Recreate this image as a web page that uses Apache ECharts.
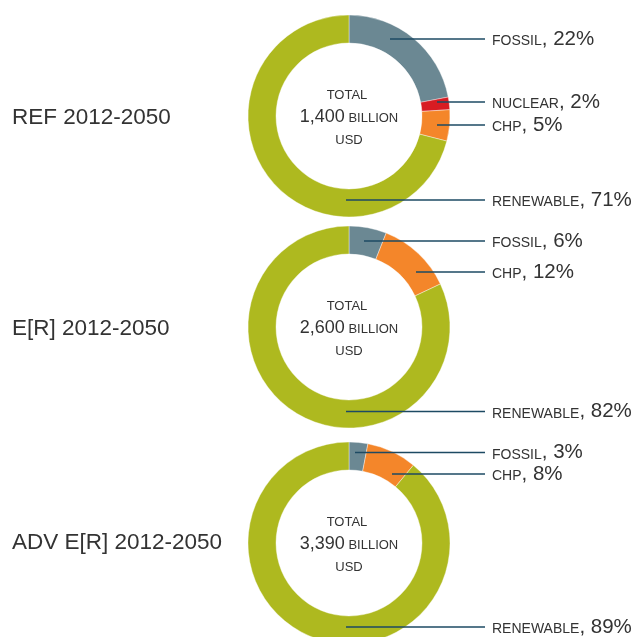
<!DOCTYPE html>
<html>
<head>
<meta charset="utf-8">
<script src="https://cdn.jsdelivr.net/npm/echarts@6/dist/echarts.min.js"></script>
<style>
  html, body { margin: 0; padding: 0; background: #fff; }
  #chart { width: 635px; height: 637px; }
</style>
</head>
<body>
<div id="chart"></div>
<script>
// Investment by source, three scenarios 2012-2050 (shares in %, totals in billion USD)
const scenarios = ['REF 2012-2050', 'E[R] 2012-2050', 'ADV E[R] 2012-2050'];
const totals = ['1,400', '2,600', '3,390'];
const sources = ['FOSSIL', 'NUCLEAR', 'CHP', 'RENEWABLE'];
const refShares = [22, 2, 5, 71];
const erShares = [6, 0, 12, 82];
const advShares = [3, 0, 8, 89];
const shares = [refShares, erShares, advShares];

// ---- layout & style ----
const FONT = '"Liberation Sans", Arial, Helvetica, sans-serif';
const TEXT = '#333333';
const CX = 349;
const CENTERS_Y = [116, 327, 543];
const TITLE_DY = [2, 1.5, 0];
const R_IN = 73, R_OUT = 101;
const COLORS = { FOSSIL: '#6b8893', NUCLEAR: '#d81c23', CHP: '#f4862a', RENEWABLE: '#aeb91f' };
// leader placement relative to each ring centre: [label dy, line start dx]
const LEADERS = [
  { FOSSIL: [-77, 41], NUCLEAR: [-14, 88], CHP: [9, 88], RENEWABLE: [84, -3] },
  { FOSSIL: [-86, 15], CHP: [-55, 67], RENEWABLE: [84.5, -3] },
  { FOSSIL: [-90.5, 6], CHP: [-69, 43], RENEWABLE: [84, -3] }
];
const LINE_END_X = 485, LABEL_X = 492;

const chart = echarts.init(document.getElementById('chart'), null, { renderer: 'canvas' });

const seriesData = shares.map(vals =>
  sources
    .map((name, i) => ({ name, value: vals[i] }))
    .filter(d => d.value > 0)
);

const series = [];
seriesData.forEach((data, s) => {
  const cy = CENTERS_Y[s];
  const base = {
    type: 'pie',
    center: [CX, cy],
    radius: [R_IN, R_OUT],
    startAngle: 90,
    clockwise: true,
    avoidLabelOverlap: false,
    silent: true,
    animation: false,
    emphasis: { disabled: true }
  };
  // coloured ring
  series.push(Object.assign({}, base, {
    z: 2,
    data: data.map(d => ({ name: d.name, value: d.value, itemStyle: { color: COLORS[d.name] } })),
    itemStyle: { borderColor: '#ffffff', borderWidth: 0.4 },
    label: { show: false },
    labelLine: { show: false }
  }));
  // leader lines and labels, drawn above the ring
  series.push(Object.assign({}, base, {
    z: 4,
    data: data.map(d => ({ name: d.name, value: d.value })),
    itemStyle: { color: 'rgba(0,0,0,0)', borderWidth: 0 },
    label: {
      show: true,
      position: 'outside',
      formatter: p => `{n|${p.name}}{p|, ${p.value}%}`,
      rich: {
        n: { fontSize: 14, fontFamily: FONT, color: TEXT, verticalAlign: 'bottom', padding: [0, 0, 1, 0] },
        p: { fontSize: 20.5, fontFamily: FONT, color: TEXT, verticalAlign: 'bottom' }
      }
    },
    labelLine: { show: true, lineStyle: { color: '#1d4a63', width: 1.3 } },
    labelLayout: p => {
      const [dy, dx] = LEADERS[s][data[p.dataIndex].name];
      const y = cy + dy;
      return {
        x: LABEL_X,
        y: y,
        align: 'left',
        verticalAlign: 'middle',
        labelLinePoints: [[CX + dx, y], [LINE_END_X, y], [LINE_END_X, y]]
      };
    }
  }));
});

const graphics = [];
const txt = (x, y, text, extra) => ({
  type: 'text', x, y, z: 10,
  style: Object.assign({ text, fontFamily: FONT, fill: TEXT, verticalAlign: 'middle' }, extra)
});
scenarios.forEach((name, s) => {
  const cy = CENTERS_Y[s];
  graphics.push(txt(12, cy + TITLE_DY[s], name, { fontSize: 22.5, align: 'left' }));
  graphics.push(txt(CX - 2, cy - 21, 'TOTAL', { fontSize: 13, align: 'center' }));
  graphics.push(txt(CX, cy + 1, `{v|${totals[s]}}{u| BILLION}`, {
    align: 'center',
    rich: {
      v: { fontSize: 18, fontFamily: FONT, fill: TEXT, verticalAlign: 'bottom' },
      u: { fontSize: 13, fontFamily: FONT, fill: TEXT, verticalAlign: 'bottom', padding: [0, 0, 1, 0] }
    }
  }));
  graphics.push(txt(CX, cy + 24, 'USD', { fontSize: 13, align: 'center' }));
});

chart.setOption({
  backgroundColor: '#ffffff',
  animation: false,
  series,
  graphic: graphics
});
</script>
</body>
</html>
